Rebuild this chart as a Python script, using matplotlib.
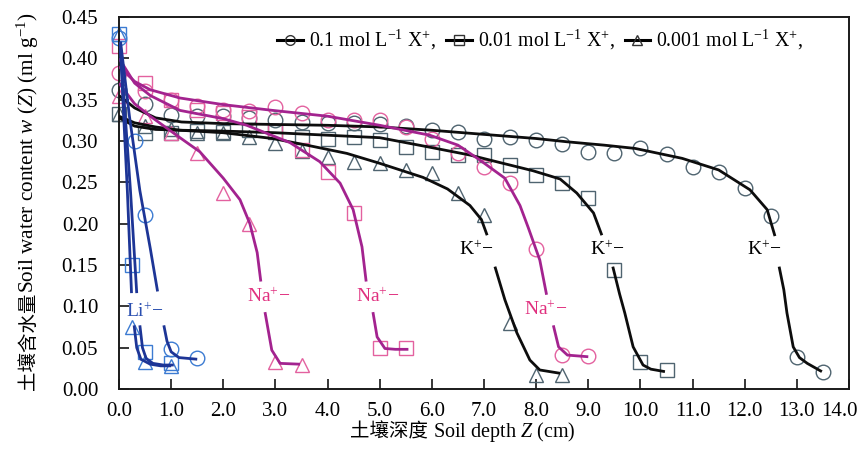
import numpy as np
import matplotlib
matplotlib.use("Agg")
import matplotlib.pyplot as plt
from matplotlib.lines import Line2D
from matplotlib.transforms import ScaledTranslation

plt.rcParams['font.family'] = ['Liberation Serif', 'Noto Sans CJK SC']
plt.rcParams['mathtext.fontset'] = 'custom'
plt.rcParams['mathtext.rm'] = 'Liberation Serif'
plt.rcParams['mathtext.it'] = 'Liberation Serif:italic'
plt.rcParams['mathtext.bf'] = 'Liberation Serif:bold'
plt.rcParams['axes.unicode_minus'] = True

nan = np.nan

# ---------------- measured points (markers) ----------------
# K+
k1_x = [0.0, 0.5, 1.0, 1.5, 2.0, 2.5, 3.0, 3.5, 4.0, 4.5, 5.0, 5.5, 6.0, 6.5, 7.0,
        7.5, 8.0, 8.5, 9.0, 9.5, 10.0, 10.5, 11.0, 11.5, 12.0, 12.5, 13.0, 13.5]
k1_y = [0.362, 0.345, 0.332, 0.330, 0.330, 0.328, 0.325, 0.323, 0.322, 0.322, 0.320,
        0.318, 0.313, 0.311, 0.303, 0.305, 0.301, 0.296, 0.287, 0.285, 0.291, 0.284,
        0.269, 0.262, 0.243, 0.209, 0.039, 0.021]
k2_x = [0.0, 0.5, 1.0, 1.5, 2.0, 2.5, 3.0, 3.5, 4.0, 4.5, 5.0, 5.5, 6.0, 6.5, 7.0,
        7.5, 8.0, 8.5, 9.0, 9.5, 10.0, 10.5]
k2_y = [0.333, 0.310, 0.310, 0.312, 0.311, 0.313, 0.311, 0.305, 0.303, 0.305, 0.301,
        0.293, 0.287, 0.283, 0.283, 0.271, 0.259, 0.249, 0.231, 0.144, 0.033, 0.023]
k3_x = [0.0, 0.5, 1.0, 1.5, 2.0, 2.5, 3.0, 3.5, 4.0, 4.5, 5.0, 5.5, 6.0, 6.5, 7.0,
        7.5, 8.0, 8.5]
k3_y = [0.333, 0.318, 0.315, 0.310, 0.310, 0.305, 0.297, 0.288, 0.281, 0.274, 0.273,
        0.265, 0.261, 0.237, 0.210, 0.080, 0.017, 0.017]
# Na+
na1_x = [0.0, 0.5, 1.0, 1.5, 2.0, 2.5, 3.0, 3.5, 4.0, 4.5, 5.0, 5.5, 6.0, 6.5, 7.0,
         7.5, 8.0, 8.5, 9.0]
na1_y = [0.382, 0.360, 0.350, 0.342, 0.338, 0.336, 0.341, 0.334, 0.325, 0.325, 0.325,
         0.317, 0.303, 0.286, 0.268, 0.249, 0.169, 0.041, 0.040]
na2_x = [0.0, 0.5, 1.0, 1.5, 2.0, 2.5, 3.0, 3.5, 4.0, 4.5, 5.0, 5.5]
na2_y = [0.415, 0.370, 0.350, 0.337, 0.334, 0.329, 0.312, 0.289, 0.263, 0.213, 0.050, 0.050]
na3_x = [0.0, 0.5, 1.0, 1.5, 2.0, 2.5, 3.0, 3.5]
na3_y = [0.355, 0.330, 0.310, 0.285, 0.237, 0.200, 0.033, 0.029]
# Li+
li1_x = [0.0, 0.3, 0.5, 1.0, 1.5]
li1_y = [0.425, 0.300, 0.210, 0.048, 0.037]
li2_x = [0.0, 0.25, 0.5, 1.0]
li2_y = [0.430, 0.150, 0.045, 0.031]
li3_x = [0.0, 0.25, 0.5, 1.0]
li3_y = [0.430, 0.075, 0.033, 0.028]

# ---------------- fitted curves (nan = gap at the label) ----------------
k1_cx = [0, 0.3, 0.7, 1.2, 2, 3, 4, 5, 6, 7, 8, 8.6, 9.3, 9.9, 10.8, 11.5, 12.1, 12.43,
         12.58, nan, 12.66, 12.75, 12.81, 12.93, 13.05, 13.2, 13.48]
k1_cy = [0.355, 0.34, 0.328, 0.323, 0.321, 0.320, 0.319, 0.317, 0.313, 0.308, 0.303,
         0.299, 0.295, 0.291, 0.279, 0.265, 0.241, 0.217, 0.185, nan, 0.148, 0.12, 0.092,
         0.051, 0.038, 0.031, 0.021]
k2_cx = [0, 0.3, 0.7, 1.2, 2, 3, 4, 5, 6, 6.73, 7.3, 7.94, 8.46, 8.78, 9.1, 9.26, nan,
         9.47, 9.6, 9.7, 9.86, 10.05, 10.2, 10.47]
k2_cy = [0.328, 0.318, 0.314, 0.313, 0.312, 0.310, 0.307, 0.304, 0.292, 0.283, 0.274,
         0.264, 0.254, 0.237, 0.213, 0.186, nan, 0.148, 0.115, 0.092, 0.051, 0.029, 0.024,
         0.021]
k3_cx = [0, 0.3, 0.7, 1.17, 2.0, 2.95, 3.6, 4.37, 5.0, 5.83, 6.3, 6.73, 6.95, 7.06, nan,
         7.21, 7.4, 7.63, 7.88, 8.07, 8.46]
k3_cy = [0.33, 0.322, 0.317, 0.313, 0.31, 0.303, 0.295, 0.285, 0.273, 0.256, 0.242,
         0.222, 0.205, 0.186, nan, 0.148, 0.108, 0.068, 0.035, 0.023, 0.019]
na1_cx = [0, 0.3, 0.6, 1.17, 2.0, 2.95, 4.0, 5.0, 5.96, 6.5, 6.92, 7.4, 7.69, 7.85, 8.07,
          8.2, nan, 8.33, 8.43, 8.6, 9.0]
na1_cy = [0.39, 0.372, 0.362, 0.352, 0.344, 0.337, 0.330, 0.319, 0.307, 0.295, 0.277,
          0.255, 0.222, 0.195, 0.156, 0.114, nan, 0.077, 0.051, 0.041, 0.039]
na2_cx = [0, 0.3, 0.6, 1.17, 2.0, 2.45, 3.28, 3.85, 4.24, 4.49, 4.66, 4.74, nan, 4.87,
          4.95, 5.1, 5.3, 5.55]
na2_cy = [0.40, 0.37, 0.355, 0.337, 0.327, 0.319, 0.298, 0.275, 0.249, 0.217, 0.172,
          0.13, nan, 0.093, 0.063, 0.049, 0.048, 0.048]
na3_cx = [0, 0.3, 0.6, 1.17, 1.55, 2.0, 2.32, 2.51, 2.65, 2.72, nan, 2.8, 2.93, 3.09, 3.47]
na3_cy = [0.37, 0.345, 0.33, 0.304, 0.287, 0.255, 0.229, 0.2, 0.165, 0.13, nan, 0.093,
          0.047, 0.031, 0.030]
li1_cx = [0.03, 0.2, 0.4, 0.6, 0.74, nan, 0.86, 0.92, 1.0, 1.15, 1.5]
li1_cy = [0.42, 0.33, 0.24, 0.17, 0.118, nan, 0.077, 0.058, 0.045, 0.038, 0.036]
li2_cx = [0.02, 0.12, 0.22, 0.34, nan, 0.40, 0.45, 0.52, 0.65, 0.85, 1.05]
li2_cy = [0.42, 0.33, 0.24, 0.116, nan, 0.077, 0.05, 0.037, 0.031, 0.029, 0.029]
li3_cx = [0.02, 0.09, 0.16, 0.24, nan, 0.29, 0.34, 0.42, 0.6, 0.8, 1.0]
li3_cy = [0.42, 0.33, 0.24, 0.116, nan, 0.077, 0.05, 0.036, 0.03, 0.028, 0.028]

# curve labels
lab_text = ["Li$^{+}$\u2212", "Na$^{+}$\u2212", "Na$^{+}$\u2212", "Na$^{+}$\u2212",
            "K$^{+}$\u2212", "K$^{+}$\u2212", "K$^{+}$\u2212"]
lab_x = [0.50, 2.86, 4.95, 8.19, 6.85, 9.36, 12.37]
lab_y = [0.093, 0.112, 0.112, 0.096, 0.168, 0.168, 0.168]

legend_labels = ["0.1 mol L$^{-1}$ X$^{+}$,", "0.01 mol L$^{-1}$ X$^{+}$,",
                 "0.001 mol L$^{-1}$ X$^{+}$,"]

x_ticks = np.arange(0, 14.01, 1.0)
y_ticks = np.arange(0, 0.451, 0.05)

# ---------------- style ----------------
K_M, K_L = '#4f6470', '#0d0d0d'
NA_M, NA_L, NA_T = '#e3619f', '#a3238f', '#e0307f'
LI_M, LI_L, LI_T = '#3c7bd2', '#1d3596', '#2a4fb0'
MS, MEW, LW = 10.5, 1.0, 2.0

fig = plt.figure(figsize=(8.65, 4.67), dpi=100)
ax = fig.add_axes([119/865, 78/467, 730/865, 372/467])

def pts(x, y, m, c):
    ax.plot(x, y, linestyle='none', marker=m, ms=MS, mfc='none', mec=c, mew=MEW,
            clip_on=False, zorder=2)

for (x, y, m) in [(k1_x, k1_y, 'o'), (k2_x, k2_y, 's'), (k3_x, k3_y, '^')]:
    pts(x, y, m, K_M)
for (x, y, m) in [(na1_x, na1_y, 'o'), (na2_x, na2_y, 's'), (na3_x, na3_y, '^')]:
    pts(x, y, m, NA_M)
for (x, y, m) in [(li1_x, li1_y, 'o'), (li2_x, li2_y, 's'), (li3_x, li3_y, '^')]:
    pts(x, y, m, LI_M)

for (x, y) in [(k1_cx, k1_cy), (k2_cx, k2_cy), (k3_cx, k3_cy)]:
    ax.plot(x, y, color=K_L, lw=LW, zorder=3, solid_capstyle='butt')
for (x, y) in [(na1_cx, na1_cy), (na2_cx, na2_cy), (na3_cx, na3_cy)]:
    ax.plot(x, y, color=NA_L, lw=LW, zorder=3, solid_capstyle='butt')
for (x, y) in [(li1_cx, li1_cy), (li2_cx, li2_cy), (li3_cx, li3_cy)]:
    ax.plot(x, y, color=LI_L, lw=LW, zorder=3, solid_capstyle='butt')

lab_col = [LI_T, NA_T, NA_T, NA_T, 'black', 'black', 'black']
for t, x, y, c in zip(lab_text, lab_x, lab_y, lab_col):
    ax.text(x, y, t, color=c, fontsize=14, ha='center', va='center', zorder=4)

ax.set_xlim(0, 14)
ax.set_ylim(0, 0.45)
ax.set_xticks(x_ticks)
ax.set_xticklabels([f"{v:.1f}" for v in x_ticks])
ax.set_yticks(y_ticks)
ax.set_yticklabels([f"{v:.2f}" for v in y_ticks])
ax.tick_params(axis='both', direction='in', length=7, width=1.1, labelsize=15,
               top=False, right=False)
ax.tick_params(axis='x', pad=9)
ax.tick_params(axis='y', pad=15)
for s in ax.spines.values():
    s.set_linewidth(1.4)
    s.set_color('#1a1a1a')

# keep the last x tick label inside the figure (as in the reference)
last = ax.get_xticklabels()[-1]
last.set_transform(last.get_transform() + ScaledTranslation(-10/100, 0, fig.dpi_scale_trans))

handles = [Line2D([], [], color='black', lw=2.2, marker=m, ms=7, mfc='none',
                  mec='#333333', mew=1.0) for m in ['o', 's', '^']]
ax.legend(handles, legend_labels, loc='center', bbox_to_anchor=(0.577, 0.938),
          ncol=3, frameon=False, fontsize=14.3, handlelength=1.3, handletextpad=0.3,
          columnspacing=0.5, borderpad=0, borderaxespad=0)

# axis labels (Chinese + Latin pieces)
fig.text(428/865, 1 - 437/467, "土壤深度", family='Noto Sans CJK SC', fontsize=14,
         ha='right', va='baseline')
fig.text(433/865, 1 - 437/467, "Soil depth $Z$ (cm)", fontsize=14.5,
         ha='left', va='baseline')
fig.text(34/865, 1 - 390/467, "土壤含水量", family='Noto Sans CJK SC', fontsize=14,
         rotation=90, rotation_mode='anchor', ha='left', va='baseline')
fig.text(34/865, 1 - 293/467, "Soil water content $w$ ($Z$) (ml g$^{-1}$)", fontsize=15.3,
         rotation=90, rotation_mode='anchor', ha='left', va='baseline')

fig.savefig("out.png", dpi=100)
